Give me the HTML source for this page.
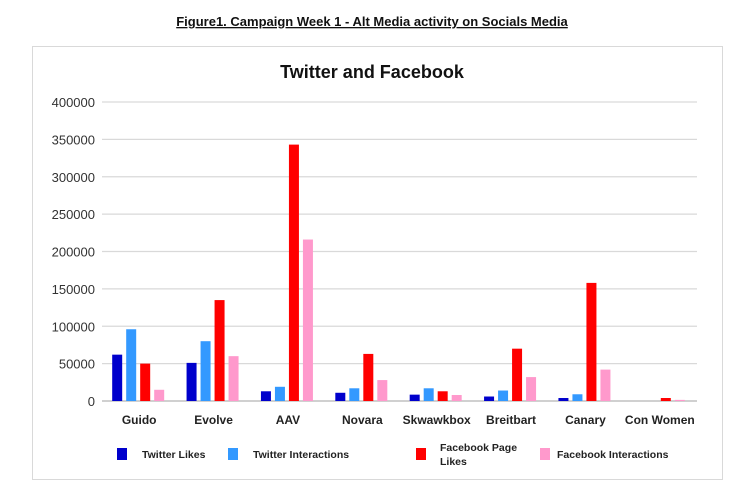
<!DOCTYPE html>
<html><head><meta charset="utf-8"><style>
body{margin:0;background:#fff;font-family:"Liberation Sans",sans-serif}
svg text{font-family:"Liberation Sans",sans-serif}
</style></head><body>
<svg width="754" height="494">
<text x="372" y="26" text-anchor="middle" font-size="13" font-weight="bold" fill="#111" text-decoration="underline">Figure1. Campaign Week 1 - Alt Media activity on Socials Media</text>
<rect x="32.5" y="46.5" width="690" height="433" fill="#fff" stroke="#d9d9d9"/>
<text x="372" y="78" text-anchor="middle" font-size="18" font-weight="bold" fill="#111">Twitter and Facebook</text>
<g id="grid"></g><g id="bars"></g><g id="legend"></g>
</svg>
<script>
const categories=["Guido","Evolve","AAV","Novara","Skwawkbox","Breitbart","Canary","Con Women"];
const twitterLikes=[62000,51000,13000,11000,8500,6000,4000,0];
const twitterInteractions=[96000,80000,19000,17000,17000,14000,9000,0];
const facebookPageLikes=[50000,135000,343000,63000,13000,70000,158000,4000];
const facebookInteractions=[15000,60000,216000,28000,8000,32000,42000,1500];
const yTicks=[0,50000,100000,150000,200000,250000,300000,350000,400000];
const NS="http://www.w3.org/2000/svg";
const x0=102,x1=697,yBase=401,yTop=102,yMax=400000;
const y=v=>yBase-(v/yMax)*(yBase-yTop);
const bw=(x1-x0)/categories.length;
const xc=i=>x0+bw*(i+0.5);
function mk(t,a,p){const e=document.createElementNS(NS,t);for(const k in a)e.setAttribute(k,a[k]);p.appendChild(e);return e;}
const grid=document.getElementById('grid');
yTicks.forEach(t=>{
 const l=mk('line',{x1:x0,x2:x1,y1:y(t),y2:y(t),stroke:t===0?'#d0d0d0':'#d9d9d9','stroke-width':t===0?2:1.3},grid);
 
 
 const tx=mk('text',{x:95,y:y(t)+5,'text-anchor':'end','font-size':13,fill:'#333'},grid);
 tx.textContent=t;
 
 
});
const series=[twitterLikes,twitterInteractions,facebookPageLikes,facebookInteractions];
const colors=["#0000cc","#3399ff","#ff0000","#ff99cc"];
const names=["twitter-likes","twitter-interactions","facebook-page-likes","facebook-interactions"];
const bars=document.getElementById('bars');
categories.forEach((c,i)=>{
 series.forEach((s,j)=>{
  const bx=xc(i)-27+j*14;
  const r=mk('rect',{x:bx,y:y(s[i]),width:10,height:yBase-y(s[i]),fill:colors[j]},bars);
  
  
 });
 const t=mk('text',{x:xc(i),y:424,'text-anchor':'middle','font-size':12,'font-weight':'bold',fill:'#222'},bars);
 t.textContent=c;
 
 
});
const lg=document.getElementById('legend');
const leg=[[117,142,["Twitter Likes"]],[228,253,["Twitter Interactions"]],[416,440,["Facebook Page","Likes"]],[540,557,["Facebook Interactions"]]];
leg.forEach((L,j)=>{
 const r=mk('rect',{x:L[0],y:448,width:10,height:12,fill:colors[j]},lg);
 
 
 L[2].forEach((s,k)=>{
  const t=mk('text',{x:L[1],y:(L[2].length>1?451+k*14:458),'font-size':10.5,'font-weight':'bold',fill:'#222'},lg);
  t.textContent=s;
  
  
 });
});
</script>
</body></html>
